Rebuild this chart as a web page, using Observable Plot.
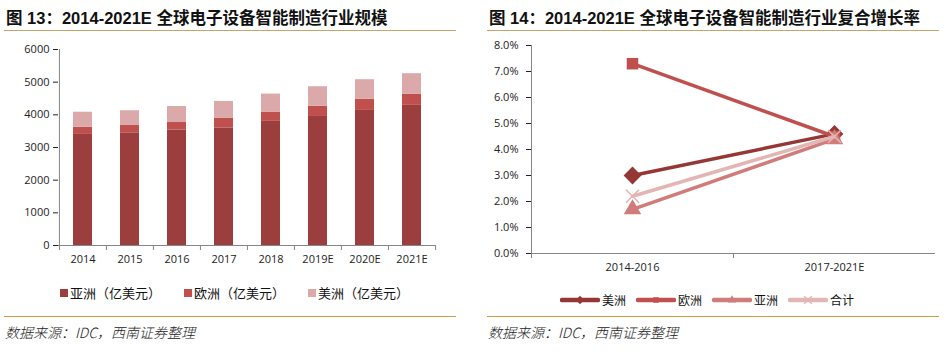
<!DOCTYPE html>
<html><head><meta charset="utf-8">
<script src="https://cdn.jsdelivr.net/npm/d3@7"></script>
<script src="https://cdn.jsdelivr.net/npm/@observablehq/plot@0.6"></script>
<style>
body{margin:0;background:#fff;width:948px;height:357px;position:relative;overflow:hidden;font-family:'Noto Sans CJK SC',sans-serif;}
.title{position:absolute;top:5px;font-family:'Liberation Sans','Noto Sans CJK SC',sans-serif;font-weight:bold;font-size:16.5px;color:#111;white-space:nowrap;}
.line{position:absolute;height:0;}
.src{position:absolute;top:322px;font-style:italic;font-size:14px;color:#222;white-space:nowrap;font-family:'Noto Sans CJK SC',sans-serif;font-weight:300;}
.chart{position:absolute;}
.legend{position:absolute;display:flex;align-items:center;white-space:nowrap;color:#111;}
.legend .item{display:flex;align-items:center;}
</style>
</head><body>
<div class="title" style="left:6px">图 13：2014-2021E 全球电子设备智能制造行业规模</div>
<div class="title" style="left:489px">图 14：2014-2021E 全球电子设备智能制造行业复合增长率</div>
<div class="line" style="left:4px;width:452px;top:30px;border-top:1px solid #c9a46a"></div>
<div class="line" style="left:487px;width:452px;top:30px;border-top:1px solid #c9a46a"></div>
<div class="chart" id="c1" style="left:0;top:40px"></div>
<div class="chart" id="c2" style="left:474px;top:30px"></div>
<div class="legend" id="lg1" style="left:60px;top:283px;font-size:13px"></div>
<div class="legend" id="lg2" style="left:560px;top:291px;font-size:12px"></div>
<div class="line" style="left:4px;width:452px;top:316px;border-top:1px solid #d39a45"></div>
<div class="line" style="left:487px;width:452px;top:316px;border-top:1px solid #d39a45"></div>
<div class="src" style="left:5px">数据来源：IDC，西南证券整理</div>
<div class="src" style="left:488px">数据来源：IDC，西南证券整理</div>
<script>
// ---- Data: chart 13 (亿美元) ----
const years = ["2014","2015","2016","2017","2018","2019E","2020E","2021E"];
const asia = [3400,3450,3530,3600,3800,3950,4135,4290];
const europe = [220,225,235,290,285,310,340,345];
const americas = [460,450,490,520,550,600,600,625];
const barSeries = ["亚洲（亿美元）","欧洲（亿美元）","美洲（亿美元）"];
const barColors = ["#9c3e3e","#c0504d","#dba9a9"];
const yTicks1 = [0,1000,2000,3000,4000,5000,6000];

// ---- Data: chart 14 (CAGR) ----
const periods = ["2014-2016","2017-2021E"];
const lineSeries = ["美洲","欧洲","亚洲","合计"];
const cagrAmericas = [0.030,0.046];
const cagrEurope = [0.073,0.045];
const cagrAsia = [0.017,0.044];
const cagrTotal = [0.022,0.045];
const lineColors = ["#953735","#c0504d","#d07c7a","#e3b5b4"];
const lineSymbols = ["diamond2","square","triangle","times"];
const yTicks2 = [0,0.01,0.02,0.03,0.04,0.05,0.06,0.07,0.08];

const FONT = "'Open Sans','Noto Sans CJK SC',sans-serif";
const AX = "#868686";

// ---------- Chart 13 ----------
{
  const W=460,H=235,ML=58,MR=25,MT=9,MB=30;
  const step=(W-ML-MR)/years.length;
  const rows=[];
  const vals=[asia,europe,americas];
  years.forEach((y,i)=>vals.forEach((v,k)=>rows.push({year:y,series:barSeries[k],value:v[i]})));
  const plot = Plot.plot({
    width:W,height:H,marginLeft:ML,marginRight:MR,marginTop:MT,marginBottom:MB,
    style:{fontFamily:FONT,fontSize:"11px",color:"#222",background:"transparent"},
    x:{domain:years,paddingInner:0.6,paddingOuter:0.3,label:null,tickSize:0,tickPadding:10},
    y:{domain:[0,6000],ticks:yTicks1,tickFormat:d3.format("d"),label:null,tickSize:5,tickPadding:4},
    color:{domain:barSeries,range:barColors},
    marks:[
      Plot.barY(rows,{x:"year",y:"value",fill:"series",order:barSeries}),
      Plot.ruleY([0],{stroke:AX}),
      Plot.ruleX([years[0]],{x:d=>d,dx:-step/2,stroke:AX}),
      Plot.ruleX(years,{x:d=>d,dx:-step/2,stroke:AX,insetTop:H-MT-MB,insetBottom:-5}),
      Plot.ruleX([years[years.length-1]],{x:d=>d,dx:step/2,stroke:AX,insetTop:H-MT-MB,insetBottom:-5})
    ]
  });
  document.getElementById("c1").append(plot);
  const lg=document.getElementById("lg1");
  barSeries.forEach((s,k)=>{
    const it=document.createElement("div");it.className="item";
    it.style.marginRight="23px";
    it.innerHTML=`<span style="display:inline-block;width:8px;height:8px;background:${barColors[k]};margin-right:2px"></span><span>${s}</span>`;
    lg.append(it);
  });
}

// ---------- Chart 14 ----------
{
  const W=474,H=250,ML=57,MR=13,MT=15,MB=27;
  const step=(W-ML-MR)/periods.length;
  const vals=[cagrAmericas,cagrEurope,cagrAsia,cagrTotal];
  const rows=[];
  lineSeries.forEach((s,k)=>periods.forEach((p,i)=>rows.push({series:s,period:p,value:vals[k][i]})));
  const marks=[
    Plot.ruleY([0],{stroke:AX}),
    Plot.ruleX([periods[0]],{x:d=>d,dx:-step/2,stroke:AX}),
    Plot.ruleX(periods,{x:d=>d,dx:-step/2,stroke:AX,insetTop:H-MT-MB,insetBottom:-5})
  ];
  lineSeries.forEach((s,k)=>{
    const d=rows.filter(r=>r.series===s);
    marks.push(Plot.line(d,{x:"period",y:"value",stroke:lineColors[k],strokeWidth:3.5}));
    const sym=lineSymbols[k];
    if(sym==="times"){
      marks.push(Plot.dot(d,{x:"period",y:"value",symbol:"times",r:6,stroke:lineColors[k],strokeWidth:1.5}));
    }else{
      marks.push(Plot.dot(d,{x:"period",y:"value",symbol:sym,r:sym==="square"?6.5:(sym==="diamond2"?8:6.5),fill:lineColors[k],stroke:"none"}));
    }
  });
  const plot = Plot.plot({
    width:W,height:H,marginLeft:ML,marginRight:MR,marginTop:MT,marginBottom:MB,
    style:{fontFamily:FONT,fontSize:"11px",color:"#222",background:"transparent"},
    x:{type:"point",domain:periods,padding:0.5,label:null,tickSize:0,tickPadding:10},
    y:{domain:[0,0.08],ticks:yTicks2,tickFormat:d3.format(".1%"),label:null,tickSize:5,tickPadding:8},
    marks
  });
  document.getElementById("c2").append(plot);
  const lg=document.getElementById("lg2");
  lineSeries.forEach((s,k)=>{
    const it=document.createElement("div");it.className="item";
    it.style.marginRight="10px";
    const sym={diamond2:d3.symbolDiamond2,square:d3.symbolSquare,triangle:d3.symbolTriangle,times:d3.symbolTimes}[lineSymbols[k]];
    const path=d3.symbol(sym,lineSymbols[k]==="times"?40:(lineSymbols[k]==="diamond2"?45:30))();
    const isStroke=lineSymbols[k]==="times";
    it.innerHTML=`<svg width="40" height="12" style="margin-right:2px"><line x1="2" x2="38" y1="6" y2="6" stroke="${lineColors[k]}" stroke-width="4.5" stroke-linecap="round"/><path transform="translate(20,6)" d="${path}" ${isStroke?`fill="none" stroke="${lineColors[k]}" stroke-width="1.5"`:`fill="${lineColors[k]}"`}/></svg><span>${s}</span>`;
    lg.append(it);
  });
}
</script>
</body></html>
